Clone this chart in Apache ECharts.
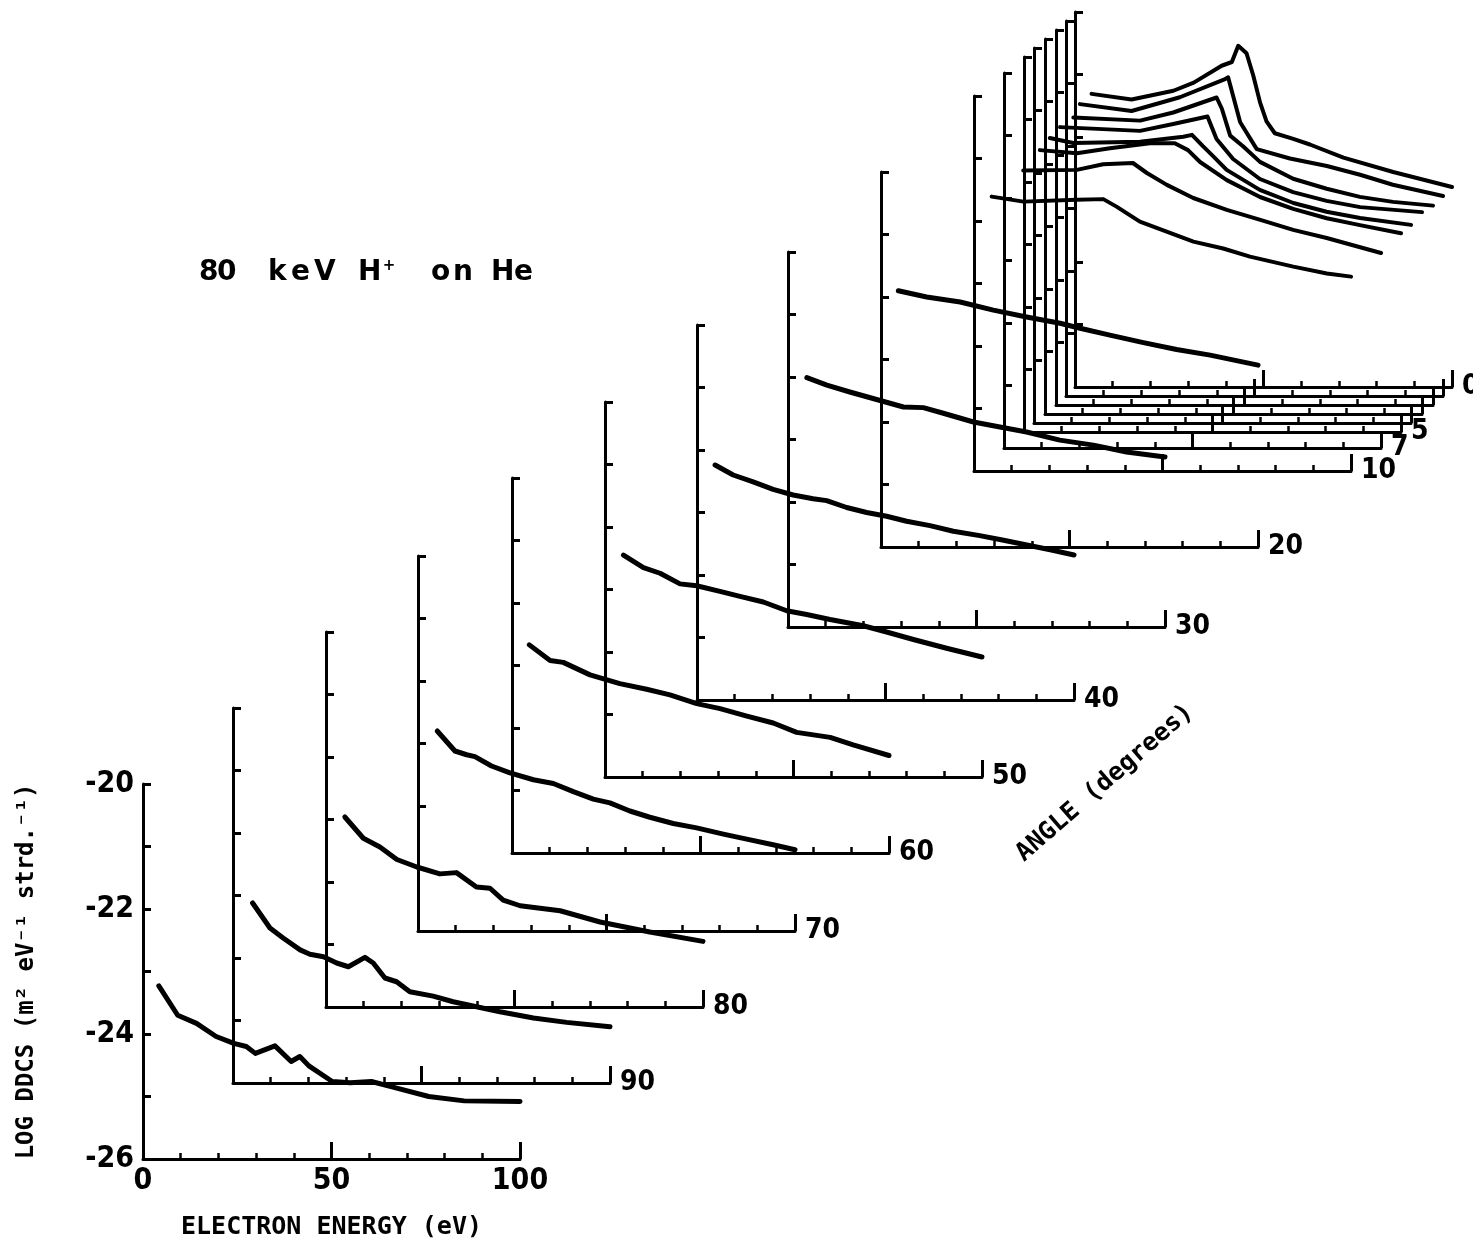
<!DOCTYPE html>
<html><head><meta charset="utf-8">
<script src="https://cdn.jsdelivr.net/npm/echarts@6/dist/echarts.min.js"></script>
<style>html,body{margin:0;padding:0;background:#fff}#c{width:1473px;height:1245px}</style>
</head><body><div id="c"></div>
<script>
// ---------------- data ----------------
// frame labels (angle, degrees); the front frame is unlabeled
const FRAME_LABELS = ['', '90', '80', '70', '60', '50', '40', '30', '20', '10', '7', '5', '', '', '', '', '0'];
const SERIES_NAMES = ['front', '90', '80', '70', '60', '50', '40', '30', '20', '10', '7', '5', '4', '3', '2', '1', '0'];

const E_front = [4.2, 9.2, 14.2, 19.4, 24.1, 27.4, 29.8, 35.0, 39.3, 41.6, 44.0, 50.2, 55, 60.6, 66.3, 75.8, 85.2, 100];
const V_front = [-23.23, -23.70, -23.83, -24.04, -24.15, -24.20, -24.31, -24.19, -24.44, -24.36, -24.51, -24.76, -24.78, -24.76, -24.85, -25.00, -25.07, -25.08];

const E_90 = [5.2, 9.8, 13.3, 17.8, 20.4, 24.0, 27.5, 30.6, 35.0, 37.2, 40.3, 43.4, 46.9, 53.1, 58.4, 64.6, 70.8, 79.7, 88.5, 100];
const V_90 = [-23.12, -23.52, -23.68, -23.87, -23.94, -23.98, -24.08, -24.14, -23.99, -24.08, -24.32, -24.38, -24.54, -24.61, -24.70, -24.78, -24.86, -24.96, -25.03, -25.10];

const E_80 = [5.0, 9.9, 14.3, 18.8, 24.1, 30.2, 34.6, 39.9, 43.5, 47.0, 51.5, 62.1, 72.7, 85.9, 100];
const V_80 = [-22.96, -23.30, -23.44, -23.64, -23.76, -23.87, -23.85, -24.08, -24.10, -24.29, -24.38, -24.46, -24.64, -24.80, -24.95];

const E_70 = [5.1, 9.8, 12.9, 15.1, 19.5, 24.4, 30.6, 35.9, 41.2, 46.5, 50.9, 56.2, 61.5, 67.7, 73.9, 81.0, 87.2, 94.2, 100];
const V_70 = [-22.80, -23.12, -23.18, -23.21, -23.36, -23.47, -23.58, -23.64, -23.77, -23.89, -23.95, -24.08, -24.18, -24.28, -24.35, -24.45, -24.53, -24.62, -24.70];

const E_60 = [4.6, 10.1, 13.6, 20.7, 28.6, 35.7, 41.9, 49.0, 55.2, 62.3, 69.3, 75.5, 84.4, 90.5, 100];
const V_60 = [-22.67, -22.92, -22.95, -23.15, -23.29, -23.38, -23.47, -23.61, -23.69, -23.81, -23.92, -24.07, -24.15, -24.27, -24.44];

const E_50 = [4.9, 10.2, 14.6, 19.9, 24.3, 30.5, 35.8, 42.0, 48.2, 53.5, 59.7, 65.0, 68.5, 74.7, 81.8, 90.6, 100];
const V_50 = [-22.45, -22.65, -22.74, -22.91, -22.94, -23.03, -23.11, -23.20, -23.34, -23.40, -23.48, -23.54, -23.58, -23.68, -23.80, -23.94, -24.08];

const E_40 = [4.8, 9.6, 14.9, 20.2, 25.5, 30.8, 34.4, 39.7, 45.0, 50.3, 55.6, 61.8, 68.0, 75.0, 81.0, 87.5, 94.0, 100];
const V_40 = [-22.24, -22.40, -22.51, -22.63, -22.72, -22.78, -22.81, -22.92, -23.00, -23.06, -23.14, -23.21, -23.30, -23.37, -23.44, -23.52, -23.60, -23.68];

const E_30 = [5.0, 10.3, 16.4, 23.5, 30.6, 35.9, 41.2, 49.2, 56.2, 63.3, 72.1, 81.0, 89.8, 100];
const V_30 = [-22.01, -22.13, -22.24, -22.36, -22.48, -22.49, -22.58, -22.72, -22.80, -22.88, -23.01, -23.09, -23.20, -23.28];

const E_20 = [4.6, 12.1, 21.0, 29.8, 38.6, 47.5, 52.8, 60.7, 69.6, 78.4, 87.3, 100];
const V_20 = [-21.90, -22.00, -22.08, -22.21, -22.32, -22.42, -22.50, -22.61, -22.73, -22.84, -22.93, -23.09];

const E_10 = [4.7, 13.1, 27.2, 34.3, 37.8, 44.0, 51.1, 58.2, 66.1, 73.2, 84.7, 93.6, 100];
const V_10 = [-21.61, -21.69, -21.66, -21.65, -21.77, -22.01, -22.17, -22.33, -22.44, -22.57, -22.73, -22.84, -22.89];

const E_7 = [5.1, 19.3, 26.3, 34.2, 37.9, 43.2, 50.2, 59.1, 68.0, 76.7, 85.6, 100];
const V_7 = [-21.56, -21.55, -21.46, -21.44, -21.60, -21.79, -22.00, -22.19, -22.35, -22.51, -22.64, -22.88];

const E_5 = [4.2, 14, 22.8, 33.4, 40, 43.5, 46.7, 53.8, 62.6, 71.4, 80.3, 89.1, 100];
const V_5 = [-21.49, -21.54, -21.46, -21.38, -21.38, -21.49, -21.68, -21.97, -22.24, -22.43, -22.58, -22.69, -22.82];

const E_4 = [4.2, 10.4, 28.1, 39.6, 41.9, 44.8, 47.5, 51.1, 59.9, 68.8, 77.6, 86.5, 100];
const V_4 = [-21.44, -21.52, -21.50, -21.42, -21.39, -21.57, -21.73, -21.95, -22.27, -22.48, -22.62, -22.72, -22.83];

const E_3 = [4.0, 25.2, 34.0, 43.1, 45.5, 49.9, 57.0, 65.8, 74.7, 83.6, 100];
const V_3 = [-21.41, -21.47, -21.36, -21.24, -21.60, -21.92, -22.24, -22.45, -22.59, -22.69, -22.77];

const E_2 = [4.6, 22.3, 31.1, 42.6, 44.0, 46.2, 49.6, 54.1, 62.9, 71.8, 80.6, 89.4, 100];
const V_2 = [-21.40, -21.45, -21.32, -21.08, -21.26, -21.69, -21.86, -22.11, -22.38, -22.54, -22.67, -22.75, -22.81];

const E_1 = [3.7, 17.4, 30.2, 42.2, 43.0, 46.2, 50.6, 59.4, 69.2, 78, 86.7, 100];
const V_1 = [-21.33, -21.44, -21.22, -20.93, -20.90, -21.62, -22.05, -22.20, -22.32, -22.46, -22.62, -22.80];

const E_0 = [4.4, 15.0, 26.1, 31.5, 38.9, 41.6, 43.3, 45.5, 47.3, 49.1, 50.8, 53.0, 57.9, 62.3, 71.2, 84.4, 100];
const V_0 = [-21.31, -21.40, -21.26, -21.13, -20.86, -20.80, -20.54, -20.66, -21.02, -21.45, -21.75, -21.94, -22.03, -22.12, -22.33, -22.56, -22.80];

const ENERGY = [E_front, E_90, E_80, E_70, E_60, E_50, E_40, E_30, E_20, E_10, E_7, E_5, E_4, E_3, E_2, E_1, E_0];
const DDCS = [V_front, V_90, V_80, V_70, V_60, V_50, V_40, V_30, V_20, V_10, V_7, V_5, V_4, V_3, V_2, V_1, V_0];

// ---------------- layout (pixel placement of each frame) ----------------
const FRAME_ORIGIN = [[143,1159],[233,1083],[326,1007],[418,931],[512,853],[605,777],[697,700],[788,627],[881,547],[974,471],[1004,448],[1024,432],[1034,423],[1045,414],[1056,405],[1066,396],[1075,387]];
const FRAME_W = 377, FRAME_H = 375;
const NARROW = "'Liberation Sans Narrow','DejaVu Sans Condensed',sans-serif";
const MONO = "'DejaVu Sans Mono',monospace";

const grids = [], xAxes = [], yAxes = [], series = [];
FRAME_ORIGIN.forEach(([l, b], i) => {
  grids.push({left: l, top: b - FRAME_H, width: FRAME_W, height: FRAME_H, containLabel: false, outerBoundsMode: 'none'});
  const front = i === 0;
  xAxes.push({
    gridIndex: i, type: 'value', min: 0, max: 100, interval: 50,
    axisLine: {show: true, onZero: false, lineStyle: {color: '#000', width: 3}},
    axisTick: {show: true, inside: true, length: 17, lineStyle: {color: '#000', width: 3}},
    minorTick: {show: true, splitNumber: 5, length: 6, lineStyle: {color: '#000', width: 2.5}},
    splitLine: {show: false}, minorSplitLine: {show: false},
    axisLabel: {show: front, margin: 7, color: '#000', fontFamily: NARROW, fontWeight: 'bold', fontSize: 30},
    name: front ? 'ELECTRON ENERGY (eV)' : FRAME_LABELS[i],
    nameLocation: front ? 'middle' : 'end',
    nameGap: front ? 56 : 10,
    nameMoveOverlap: false,
    nameTextStyle: front ? {color: '#000', fontFamily: MONO, fontWeight: 'bold', fontSize: 25}
                         : {color: '#000', fontFamily: NARROW, fontWeight: 'bold', fontSize: 28}
  });
  yAxes.push({
    gridIndex: i, type: 'value', min: -26, max: -20, interval: 2,
    axisLine: {show: true, onZero: false, lineStyle: {color: '#000', width: 3}},
    axisTick: {show: true, inside: true, length: 8, lineStyle: {color: '#000', width: 3}},
    minorTick: {show: true, splitNumber: 2, length: 8, lineStyle: {color: '#000', width: 3}},
    splitLine: {show: false}, minorSplitLine: {show: false},
    axisLabel: {show: front, margin: 9, color: '#000', fontFamily: NARROW, fontWeight: 'bold', fontSize: 30},
    name: front ? 'LOG DDCS (m² eV⁻¹ strd.⁻¹)' : '',
    nameLocation: 'middle', nameGap: 104, nameMoveOverlap: false,
    nameTextStyle: {color: '#000', fontFamily: MONO, fontWeight: 'bold', fontSize: 24}
  });
  series.push({
    type: 'line', name: SERIES_NAMES[i], xAxisIndex: i, yAxisIndex: i,
    data: ENERGY[i].map((e, j) => [e, DDCS[i][j]]),
    showSymbol: false, symbol: 'none', clip: false, silent: true,
    lineStyle: {color: '#000', width: i < 9 ? 5 : 4, cap: 'round', join: 'round'}
  });
});

// title pieces
const TITLE_FONT = "bold 28px 'DejaVu Sans',sans-serif";
const titleChars = [['8',199],['0',217],['k',268],['e',291],['V',314],['H',358],['o',431],['n',453],['H',491],['e',514]];
const graphics = titleChars.map(([t, x]) => ({
  type: 'text', style: {text: t, x: x, y: 273, font: TITLE_FONT, fill: '#000', textAlign: 'left', textVerticalAlign: 'middle'}
}));
graphics.push({type: 'text', style: {text: '+', x: 389, y: 266, font: "bold 15px 'DejaVu Sans',sans-serif", fill: '#000', textAlign: 'center', textVerticalAlign: 'middle'}});
graphics.push({type: 'text', x: 1105, y: 783, rotation: 41 * Math.PI / 180,
  style: {text: 'ANGLE (degrees)', x: 0, y: 0, font: "bold 25px 'DejaVu Sans Mono',monospace", fill: '#000', textAlign: 'center', textVerticalAlign: 'middle'}});

const chart = echarts.init(document.getElementById('c'), null, {renderer: 'canvas'});
chart.setOption({
  backgroundColor: '#fff',
  animation: false,
  grid: grids, xAxis: xAxes, yAxis: yAxes, series: series,
  graphic: graphics
});
</script></body></html>
